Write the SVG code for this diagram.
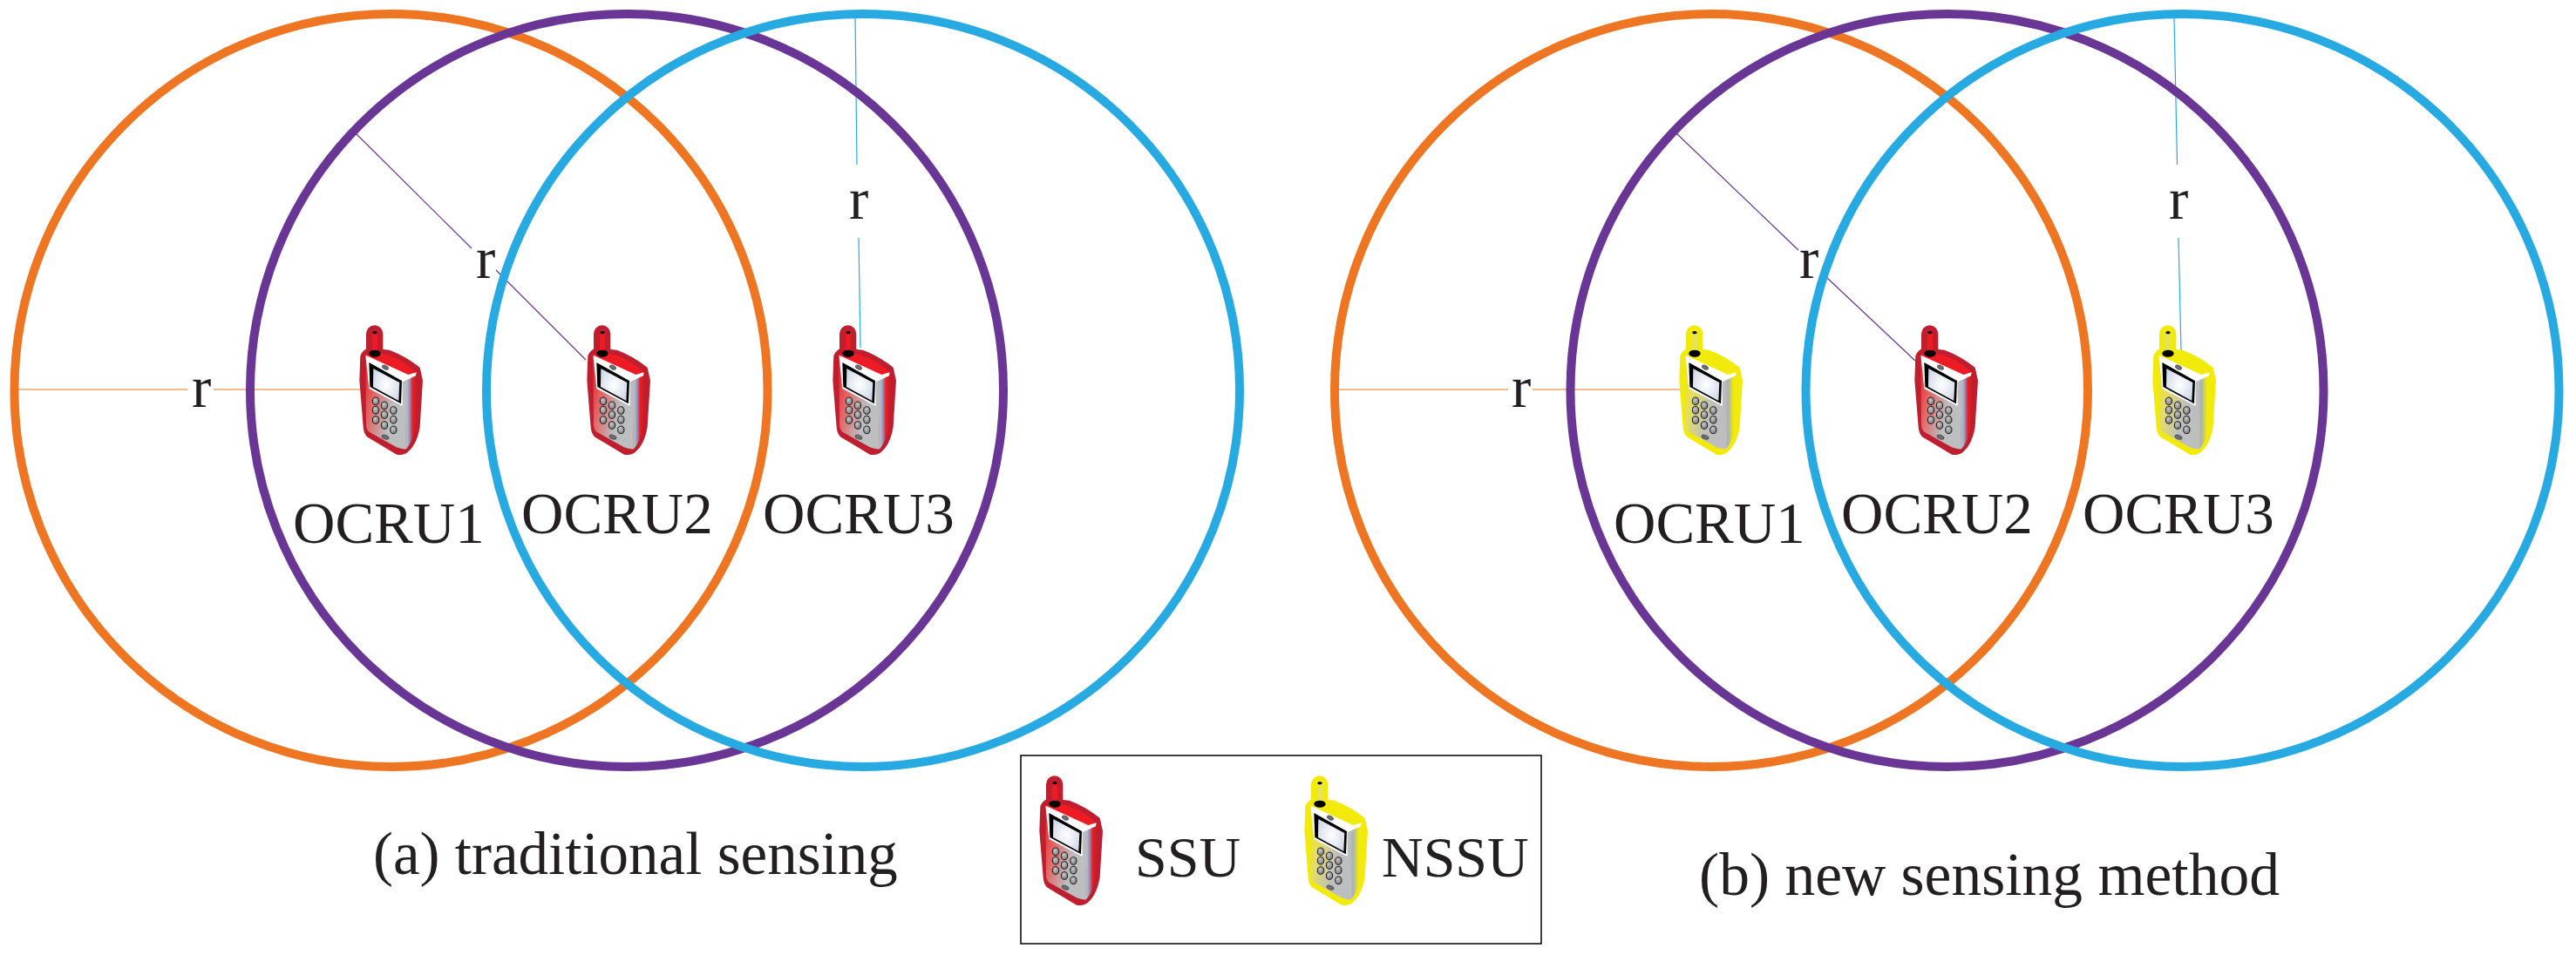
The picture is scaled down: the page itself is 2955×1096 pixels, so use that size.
<svg xmlns="http://www.w3.org/2000/svg" xmlns:xlink="http://www.w3.org/1999/xlink" width="2955" height="1096" viewBox="0 0 2955 1096">
<style>
text{font-family:"Liberation Serif","Times New Roman",serif;font-size:67px;fill:#231f20}
.ring{fill:none;stroke-width:10}
.o{stroke:#ee7623}.p{stroke:#6a3695}.c{stroke:#27aae1}
.thin{stroke-width:1.2;fill:none}
.k{stroke:#000;stroke-width:2.5;fill:url(#key)}
</style>
<defs>
<radialGradient id="key" cx=".4" cy=".35" r=".75"><stop offset="0" stop-color="#c8c8c8"/><stop offset="1" stop-color="#6d6e71"/></radialGradient>
<radialGradient id="scr" cx=".5" cy=".5" r=".65"><stop offset="0" stop-color="#fff"/><stop offset="1" stop-color="#cdd6e6"/></radialGradient>
<linearGradient id="faceR" x1="0" y1="0" x2="1" y2=".55"><stop offset="0" stop-color="#ed1c24"/><stop offset=".35" stop-color="#e26a6a"/><stop offset=".75" stop-color="#bcbec0"/></linearGradient>
<linearGradient id="faceY" x1="0" y1="0" x2="1" y2=".55"><stop offset="0" stop-color="#f2ea0a"/><stop offset=".35" stop-color="#e2dc6a"/><stop offset=".75" stop-color="#bcbec0"/></linearGradient>
<linearGradient id="sideR"><stop offset="0" stop-color="#bcbec0"/><stop offset=".22" stop-color="#b4b6c6"/><stop offset=".4" stop-color="#8f93b8"/><stop offset=".62" stop-color="#ed1c24"/><stop offset="1" stop-color="#be1e2d"/></linearGradient>
<linearGradient id="sideY"><stop offset="0" stop-color="#bcbec0"/><stop offset=".3" stop-color="#a9b4b0"/><stop offset=".7" stop-color="#f2ea0a"/><stop offset="1" stop-color="#f2ea0a"/></linearGradient>
<g id="parts">
<ellipse cx="150" cy="125" rx="8" ry="5" fill="#000"/>
<ellipse cx="150" cy="197" rx="20" ry="12" fill="#000"/>
<path d="M119 203L265 270L293 262L291 274L245 295L245 378L130 318L119 212Z" fill="#fff"/>
<path d="M130 228L243 291L240 370L133 312Z" fill="#000"/>
<path d="M145 249L235 297L232 360L144 312Z" fill="url(#scr)"/>
<ellipse cx="186" cy="245" rx="12" ry="7" transform="rotate(28 186 245)" fill="#6d6e71" stroke="#000"/>
<ellipse class="k" cx="153" cy="361" rx="11" ry="13"/><ellipse class="k" cx="183" cy="376" rx="11" ry="13"/><ellipse class="k" cx="214" cy="393" rx="11" ry="13"/>
<ellipse class="k" cx="153" cy="392" rx="11" ry="13"/><ellipse class="k" cx="183" cy="408" rx="11" ry="13"/><ellipse class="k" cx="214" cy="425" rx="11" ry="13"/>
<ellipse class="k" cx="153" cy="426" rx="11" ry="13"/><ellipse class="k" cx="183" cy="444" rx="11" ry="13"/><ellipse class="k" cx="214" cy="460" rx="11" ry="13"/>
<ellipse cx="186" cy="485" rx="13" ry="7" transform="rotate(20 186 485)" fill="#6d6e71" stroke="#000"/>
</g>
<g id="ssu" transform="scale(.3333)">
<rect x="120" y="100" width="58" height="110" rx="29" fill="#be1e2d"/>
<path d="M97 290L100 205Q110 182 130 178L200 185Q255 205 305 245L315 290L305 450Q295 510 265 535Q250 550 225 545L125 485Q112 475 110 450Z" fill="#be1e2d"/>
<rect x="141" y="124" width="18" height="72" fill="#ed1c24"/>
<path d="M118 200L172 196Q240 212 293 262L293 280L118 215Z" fill="#ed1c24"/>
<path d="M118 205L255 285L258 526Q245 528 225 520L132 468Q120 460 120 440Z" fill="url(#faceR)"/>
<path d="M252 280L293 265L297 300L290 440Q285 495 258 526Z" fill="url(#sideR)"/>
<use href="#parts"/>
</g>
<g id="nssu" transform="scale(.3333)">
<rect x="120" y="100" width="58" height="110" rx="29" fill="#f2ea0a"/>
<path d="M97 290L100 205Q110 182 130 178L200 185Q255 205 305 245L315 290L305 450Q295 510 265 535Q250 550 225 545L125 485Q112 475 110 450Z" fill="#f2ea0a"/>
<rect x="141" y="124" width="18" height="72" fill="#e8e25a"/>
<path d="M118 200L172 196Q240 212 293 262L293 280L118 215Z" fill="#f2ea0a"/>
<path d="M118 205L255 285L258 526Q245 528 225 520L132 468Q120 460 120 440Z" fill="url(#faceY)"/>
<path d="M252 280L293 265L297 300L290 440Q285 495 258 526Z" fill="url(#sideY)"/>
<use href="#parts"/>
</g>
</defs>
<rect width="2955" height="1096" fill="#fff"/>
<g id="connectors">
<path class="thin o" d="M16 447H215M245 447H413"/>
<path class="thin p" d="M407 152L541 285M569 310L672 413"/>
<path class="thin c" d="M981 17L983 189M985 273L987 399"/>
<path class="thin o" d="M1533 447H1730M1758 447H1927"/>
<path class="thin p" d="M1922 152L2063 287M2096 319L2197 414"/>
<path class="thin c" d="M2494 20L2497.500 189M2499 273L2502 402"/>
</g>
<g id="panel-a">
<circle id="a-ring1" class="ring o" cx="448.500" cy="448" r="432"/>
<circle id="a-ring2" class="ring p" cx="719" cy="448" r="432"/>
<circle id="a-ring3" class="ring c" cx="990" cy="448" r="432"/>
<g id="a-ocru1"><use href="#ssu" transform="translate(380 340)"/><text x="336" y="623">OCRU1</text></g>
<g id="a-ocru2"><use href="#ssu" transform="translate(641 340)"/><text x="598" y="612">OCRU2</text></g>
<g id="a-ocru3"><use href="#ssu" transform="translate(923 340)"/><text x="875" y="612">OCRU3</text></g>
<text x="220" y="467">r</text><text x="546" y="319">r</text><text x="974" y="251">r</text>
<text style="font-size:69px" x="428" y="1003">(a) traditional sensing</text>
</g>
<g id="panel-b">
<circle id="b-ring1" class="ring o" cx="1963" cy="448" r="432"/>
<circle id="b-ring2" class="ring p" cx="2233.500" cy="448" r="432"/>
<circle id="b-ring3" class="ring c" cx="2503.500" cy="448" r="432"/>
<g id="b-ocru1"><use href="#nssu" transform="translate(1894 340)"/><text x="1851" y="623">OCRU1</text></g>
<g id="b-ocru2"><use href="#ssu" transform="translate(2164 340)"/><text x="2112" y="612">OCRU2</text></g>
<g id="b-ocru3"><use href="#nssu" transform="translate(2437 340)"/><text x="2389" y="612">OCRU3</text></g>
<text x="1734" y="467">r</text><text x="2064" y="319">r</text><text x="2488" y="251">r</text>
<text style="font-size:69.500px" x="1949" y="1027">(b) new sensing method</text>
</g>
<g id="legend">
<rect x="1171" y="867" width="597" height="216" fill="#fff" stroke="#000" stroke-width="1.5"/>
<g id="legend-ssu"><use href="#ssu" transform="translate(1160 857)"/><text style="font-size:66px" x="1302" y="1006">SSU</text></g>
<g id="legend-nssu"><use href="#nssu" transform="translate(1464 857)"/><text style="font-size:66px" x="1585" y="1006">NSSU</text></g>
</g>
</svg>
